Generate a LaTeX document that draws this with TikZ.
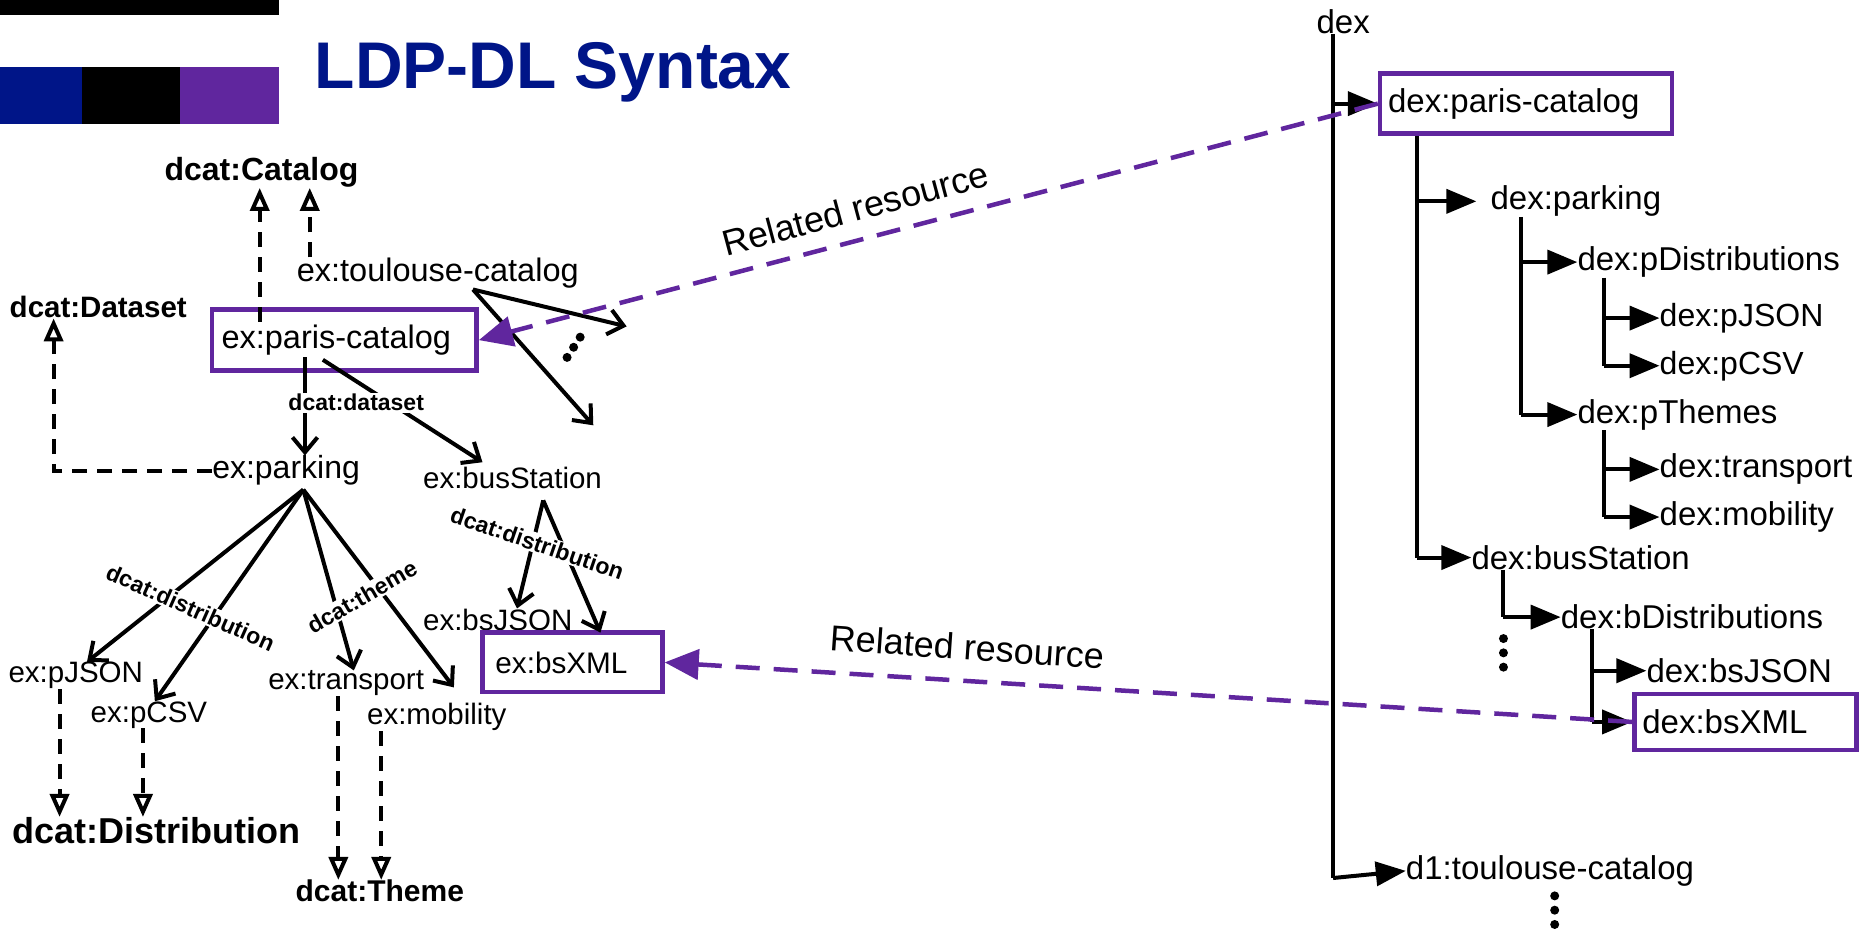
\documentclass[tikz,border=0pt]{standalone}
\usepackage{fontspec}
\setmainfont{Liberation Sans}
\usetikzlibrary{arrows.meta}
\definecolor{navy}{RGB}{0,21,136}
\definecolor{purp}{RGB}{96,38,158}
\tikzset{
  txt/.style={font=\fontsize{29.5}{34}\selectfont, inner sep=0pt, anchor=west},
  rtxt/.style={font=\fontsize{33}{37}\selectfont, inner sep=0pt, anchor=west},
  cls/.style={font=\bfseries\fontsize{31}{35}\selectfont, inner sep=0pt, anchor=west},
  elab/.style={font=\bfseries\fontsize{23}{26}\selectfont, fill=white, inner sep=1.5pt},
  rlab/.style={font=\fontsize{36}{40}\selectfont, inner sep=0pt},
  pbox/.style={draw=purp, line width=4.5pt, inner ysep=0pt, align=left},
  arr/.style={line width=4pt, -{Straight Barb[length=15pt,width=25pt]}},
  darr/.style={line width=4pt, dash pattern=on 15pt off 10pt, -{Triangle[open,length=23pt,width=19pt]}},
  tarr/.style={line width=4pt, -{Triangle[length=30pt,width=24pt]}},
  tline/.style={line width=4pt},
  rel/.style={draw=purp, line width=4.5pt, dash pattern=on 24pt off 14pt, -{Triangle[length=34pt,width=30pt]}},
  dot/.style={circle, fill=black, inner sep=0pt, minimum size=9pt},
}
\begin{document}
\begin{tikzpicture}[x=1.1913pt,y=-1.1913pt]
\useasboundingbox (0,0) rectangle (1568,781);
% header decoration
\fill[black] (0,0) rectangle (234,12.6);
\fill[navy] (0,56) rectangle (69,104);
\fill[black] (69,56) rectangle (151,104);
\fill[purp] (151,56) rectangle (234,104);
\node[font=\bfseries\fontsize{66}{70}\selectfont, text=navy, inner sep=0pt, anchor=base west] (title) at (264,74) {LDP-DL Syntax};

% ---------- left graph ----------
\node[cls, font=\bfseries\fontsize{32}{36}\selectfont] (cat) at (138,145) {dcat:Catalog};
\node[cls, font=\bfseries\fontsize{29.5}{34}\selectfont] (dset) at (8,258) {dcat:Dataset};
\node[txt, font=\fontsize{32.5}{36}\selectfont] (toul) at (249,229) {ex:toulouse-catalog};
\node[pbox, font=\fontsize{32.5}{36}\selectfont, inner xsep=9.5pt, text width=245.5pt, minimum height=61pt] (paris) at (289,285.5) {ex:paris-catalog};
\node[txt, font=\fontsize{32}{36}\selectfont] (park) at (178,395) {ex:parking};
\node[txt] (bus) at (355,401) {ex:busStation};
\node[txt] (pjson) at (7,567) {ex:pJSON};
\node[txt] (pcsv) at (76,600) {ex:pCSV};
\node[txt] (transp) at (225,573.5) {ex:transport};
\node[txt] (mobil) at (308,602) {ex:mobility};
\node[txt] (bsjson) at (355,520) {ex:bsJSON};
\node[pbox, font=\fontsize{29.7}{34}\selectfont, inner xsep=13pt, text width=154pt, minimum height=59.6pt] (bsxml) at (480.5,556) {ex:bsXML};
\node[cls, font=\bfseries\fontsize{36}{40}\selectfont] (dist) at (10,697) {dcat:Distribution};
\node[cls, font=\bfseries\fontsize{30}{34}\selectfont] (theme) at (248,748) {dcat:Theme};

\coordinate (pcTop) at (218,270);
\coordinate (pcBot) at (256,300);
\coordinate (pcBot2) at (271,302);
\coordinate (busTip) at (405,388);
\coordinate (tS) at (397,243);
\coordinate (tA) at (526,274);
\coordinate (tB) at (498,357);
\coordinate (pf) at (254.6,411);
\coordinate (bs) at (456,420);
\coordinate (xmlIn) at (504,531);
\coordinate (mobTip) at (381,577);

\draw[darr] (pcTop) -- (218,0 |- cat.south);
\draw[darr] (260,0 |- toul.north) -- (260,0 |- cat.south);
\draw[darr] (park.west) -| (45,0 |- dset.south);
\draw[arr] (pcBot) -- (256,0 |- park.north);
\draw[arr] (pcBot2) -- (busTip);
\draw[arr] (tS) -- (tA);
\draw[arr] (tS) -- (tB);
\node[dot] (d1) at (476,300) {};
\node[dot] (d2) at (481.5,291.5) {};
\node[dot] (d3) at (487,283) {};

\draw[arr] (pf) -- (73,0 |- pjson.north);
\draw[arr] (pf) -- (130,0 |- pcsv.north);
\draw[arr] (pf) -- (297,0 |- transp.north);
\draw[arr] (pf) -- (mobTip);
\draw[arr] (bs) -- (434,0 |- bsjson.north);
\draw[arr] (bs) -- (xmlIn);

\draw[darr] (50,0 |- pjson.south) -- (50,0 |- dist.north);
\draw[darr] (120,0 |- pcsv.south) -- (120,0 |- dist.north);
\draw[darr] (284,0 |- transp.south) -- (284,0 |- theme.north);
\draw[darr] (320,0 |- mobil.south) -- (320,0 |- theme.north);

\node[elab] (l3) at (299,338) {dcat:dataset};
\node[elab, rotate=-24] (l1) at (160,510) {dcat:distribution};
\node[elab, rotate=30] (l2) at (304,501) {dcat:theme};
\node[elab, rotate=-19] (l4) at (451,456) {dcat:distribution};

% ---------- right tree ----------
\node[rtxt] (dex) at (1105,18) {dex};
\node[pbox, font=\fontsize{33}{37}\selectfont, inner xsep=8pt, text width=276pt, minimum height=60pt] (dpc) at (1281,87) {dex:paris-catalog};
\node[rtxt] (dpark) at (1251,169) {dex:parking};
\node[rtxt] (dpd) at (1324,220) {dex:pDistributions};
\node[rtxt, font=\fontsize{32}{36}\selectfont] (dpj) at (1393,267) {dex:pJSON};
\node[rtxt, font=\fontsize{32}{36}\selectfont] (dpcsv) at (1393,307) {dex:pCSV};
\node[rtxt] (dpt) at (1324,348) {dex:pThemes};
\node[rtxt] (dtr) at (1393,394) {dex:transport};
\node[rtxt] (dmob) at (1393,434) {dex:mobility};
\node[rtxt] (dbus) at (1235,468) {dex:busStation};
\node[rtxt] (dbd) at (1310,518) {dex:bDistributions};
\node[rtxt] (dbsj) at (1382,563) {dex:bsJSON};
\node[pbox, font=\fontsize{33}{37}\selectfont, inner xsep=8pt, text width=206pt, minimum height=56pt] (dbsx) at (1465,606) {dex:bsXML};
\node[rtxt] (dtoul) at (1180,731) {d1:toulouse-catalog};

\draw[tline] (1119,0 |- dex.south) -- (1119,737);
\draw[tarr] (1119,737) -- (dtoul.west);
\draw[tarr] (1119,0 |- dpc.west) -- (dpc.west);
\draw[tline] (1189,0 |- dpc.south) -- (1189,0 |- dbus.west);
\draw[tarr] (1189,0 |- dbus.west) -- (dbus.west);
\draw[tarr] (1189,0 |- dpark.west) -- ([xshift=-14pt]dpark.west);
\draw[tline] (1277,0 |- dpark.south) -- (1277,0 |- dpt.west);
\draw[tarr] (1277,0 |- dpt.west) -- (dpt.west);
\draw[tarr] (1277,0 |- dpd.west) -- (dpd.west);
\draw[tline] (1346,0 |- dpd.south) -- (1346,0 |- dpcsv.west);
\draw[tarr] (1346,0 |- dpcsv.west) -- (dpcsv.west);
\draw[tarr] (1346,0 |- dpj.west) -- (dpj.west);
\draw[tline] (1346,0 |- dpt.south) -- (1346,0 |- dmob.west);
\draw[tarr] (1346,0 |- dmob.west) -- (dmob.west);
\draw[tarr] (1346,0 |- dtr.west) -- (dtr.west);
\draw[tline] (1262,0 |- dbus.south) -- (1262,0 |- dbd.west);
\draw[tarr] (1262,0 |- dbd.west) -- (dbd.west);
\draw[tline] (1336,0 |- dbd.south) -- (1336,0 |- dbsx.west);
\draw[tarr] (1336,0 |- dbsx.west) -- (dbsx.west);
\draw[tarr] (1336,0 |- dbsj.west) -- (dbsj.west);
\node[dot] (e1) at (1262,536) {};
\node[dot] (e2) at (1262,548) {};
\node[dot] (e3) at (1262,560) {};
\node[dot] (f1) at (1305,752) {};
\node[dot] (f2) at (1305,764) {};
\node[dot] (f3) at (1305,776) {};

% ---------- related resource ----------
\draw[rel] (dpc.west) -- (paris.east);
\draw[rel] (dbsx.west) -- (bsxml.east);
\node[rlab, rotate=15] (r1) at (718,175) {Related resource};
\node[rlab, rotate=-4] (r2) at (812,543) {Related resource};
\end{tikzpicture}
\end{document}
